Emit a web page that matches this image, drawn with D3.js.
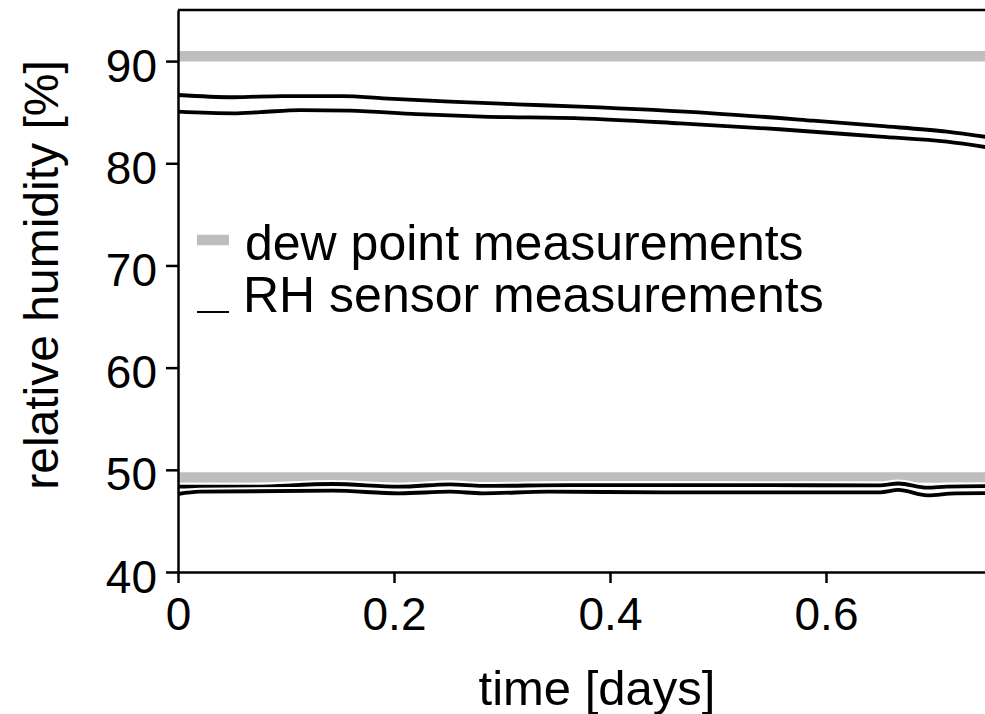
<html>
<script src='https://d3js.org/d3.v7.min.js'></script>
<style>
body {margin: 0; background: white;}
text {font-family: 'Liberation Sans', Arial, sans-serif; fill: black;}
.domain, .tick line {stroke: black; stroke-width: 2.5;}
</style>
<body onload='init()'>
<svg width=985 height=714></svg>
<script>
// time in days
var timeA = [0, 0.051, 0.097, 0.153, 0.19, 0.252, 0.314, 0.372, 0.495, 0.588, 0.65, 0.712, 0.75];
var rhA   = [86.68, 86.46, 86.58, 86.58, 86.36, 86.03, 85.77, 85.54, 84.89, 84.17, 83.65, 83.09, 82.55];
var timeB = [0, 0.051, 0.076, 0.113, 0.159, 0.221, 0.282, 0.372, 0.465, 0.557, 0.65, 0.712, 0.75];
var rhB   = [85.05, 84.89, 85.0, 85.21, 85.15, 84.81, 84.56, 84.4, 83.91, 83.33, 82.6, 82.11, 81.55];
var timeC = [0, 0.067, 0.143, 0.205, 0.252, 0.282, 0.363, 0.45, 0.55, 0.65, 0.667, 0.694, 0.712, 0.75];
var rhC   = [48.35, 48.35, 48.61, 48.35, 48.58, 48.42, 48.51, 48.51, 48.5, 48.48, 48.66, 48.25, 48.36, 48.4];
var timeD = [0, 0.02, 0.143, 0.205, 0.252, 0.282, 0.343, 0.45, 0.55, 0.65, 0.667, 0.694, 0.72, 0.75];
var rhD   = [47.63, 47.86, 47.96, 47.7, 47.86, 47.7, 47.86, 47.8, 47.8, 47.8, 48.03, 47.5, 47.7, 47.72];
var dewPoints = [90.47, 49.25];
var xTicks = [0, 0.2, 0.4, 0.6];
var yTicks = [40, 50, 60, 70, 80, 90];
var legendLabels = ['dew point measurements', 'RH sensor measurements'];

function init() {
  var left = 178, right = 988, top = 10, bottom = 572;
  var xs = d3.scaleLinear().domain([0, 0.75]).range([left, right]);
  var ys = d3.scaleLinear().domain([40, 95]).range([bottom, top]);
  var svg = d3.select('svg');

  svg.append('defs').append('clipPath').attr('id', 'plot')
    .append('rect').attr('x', left).attr('y', top)
    .attr('width', right - left).attr('height', bottom - top);

  var plot = svg.append('g').attr('clip-path', 'url(#plot)');

  plot.selectAll('line.dew').data(dewPoints).enter().append('line')
    .attr('class', 'dew')
    .attr('x1', xs(0)).attr('x2', xs(0.75))
    .attr('y1', function(d) {return ys(d);})
    .attr('y2', function(d) {return ys(d);})
    .attr('stroke', '#bebebe').attr('stroke-width', 10.5);

  var series = [[timeA, rhA], [timeB, rhB], [timeC, rhC], [timeD, rhD]];
  var line = d3.line()
    .x(function(d) {return xs(d[0]);})
    .y(function(d) {return ys(d[1]);})
    .curve(d3.curveMonotoneX);

  series.forEach(function(s) {
    var pts = d3.zip(s[0], s[1]);
    plot.append('path').attr('d', line(pts))
      .attr('fill', 'none').attr('stroke', 'white').attr('stroke-width', 8);
    plot.append('path').attr('d', line(pts))
      .attr('fill', 'none').attr('stroke', 'black').attr('stroke-width', 3.8);
  });

  // frame top
  svg.append('line').attr('x1', left).attr('x2', right)
    .attr('y1', top).attr('y2', top)
    .attr('stroke', 'black').attr('stroke-width', 2.5);

  var yAxis = svg.append('g')
    .attr('transform', 'translate(' + left + ',0)')
    .call(d3.axisLeft(ys).tickValues(yTicks).tickSize(12).tickPadding(9).tickSizeOuter(0));
  yAxis.selectAll('text').attr('font-size', 46).attr('dy', 20).style('font-family', 'Liberation Sans');

  var xAxis = svg.append('g')
    .attr('transform', 'translate(0,' + bottom + ')')
    .call(d3.axisBottom(xs).tickValues(xTicks).tickSize(11).tickPadding(14).tickSizeOuter(0)
      .tickFormat(function(d) {return d === 0 ? '0' : d3.format('.1f')(d);}));
  xAxis.selectAll('text').attr('font-size', 46).style('font-family', 'Liberation Sans');

  svg.append('text')
    .attr('transform', 'translate(58,275) rotate(-90)')
    .attr('text-anchor', 'middle')
    .attr('font-size', 48)
    .text('relative humidity [%]');

  svg.append('text')
    .attr('x', 597).attr('y', 705)
    .attr('text-anchor', 'middle')
    .attr('font-size', 49)
    .text('time [days]');

  // legend
  var legend = svg.append('g');
  legend.append('line').attr('x1', 197).attr('x2', 229).attr('y1', 240).attr('y2', 240)
    .attr('stroke', '#bebebe').attr('stroke-width', 10.5);
  legend.append('line').attr('x1', 197).attr('x2', 229).attr('y1', 312).attr('y2', 312)
    .attr('stroke', 'black').attr('stroke-width', 2);
  legend.selectAll('text').data(legendLabels).enter().append('text')
    .attr('x', function(d, i) {return i === 0 ? 245 : 243;})
    .attr('y', function(d, i) {return 260 + i * 52;})
    .attr('font-size', 50)
    .text(function(d) {return d;});
}
</script>
</body>
</html>
